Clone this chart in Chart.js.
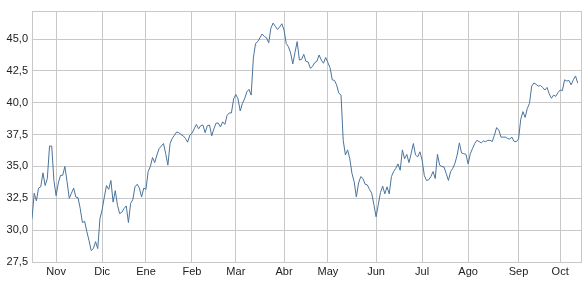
<!DOCTYPE html>
<html>
<head>
<meta charset="utf-8">
<script src="https://cdn.jsdelivr.net/npm/chart.js@4.4.1/dist/chart.umd.min.js"></script>
<style>
  body { margin: 0; background: #fff; }
</style>
</head>
<body>
<canvas id="grafica" width="586" height="285"></canvas>
<script>
// cierre diario (una entrada por sesion)
let precios = [
  30.9, 32.9, 32.3, 33.3, 33.4, 34.5, 33.5, 34.05, 36.6, 36.6,
  33.9, 32.7, 33.7, 34.3, 34.3, 35.0, 33.8, 32.5, 32.9, 33.3,
  32.6, 32.55, 31.7, 30.6, 30.7, 29.9, 29.2, 28.4, 28.55, 29.1,
  28.55, 30.9, 31.6, 32.6, 33.5, 33.2, 33.9, 32.2, 33.1, 31.95,
  31.3, 31.4, 31.7, 31.9, 30.6, 32.1, 32.4, 33.4, 33.6, 33.3,
  32.6, 33.3, 33.2, 34.6, 35.0, 35.7, 35.3, 35.9, 36.4, 36.6,
  36.8, 36.0, 35.1, 36.8, 37.2, 37.45, 37.7, 37.65, 37.5, 37.4,
  37.2, 36.9, 37.45, 37.6, 37.95, 38.3, 37.95, 38.2, 38.25, 37.65,
  38.2, 38.25, 37.4, 37.95, 38.4, 38.4, 38.1, 38.5, 38.3, 39.0,
  39.2, 39.2, 40.3, 40.65, 40.3, 39.35, 39.95, 40.3, 40.85, 41.05,
  40.6, 43.5, 44.65, 44.8, 45.1, 45.4, 45.2, 45.1, 44.7, 45.85,
  46.25, 46.0, 45.75, 45.95, 46.2, 45.7, 44.65, 44.4, 43.9, 43.05,
  43.95, 44.8, 43.35, 43.4, 43.8, 43.25, 43.2, 42.7, 42.85, 43.15,
  43.25, 43.75, 43.35, 43.1, 43.55, 43.15, 42.75, 41.8, 41.75, 41.4,
  40.75, 40.6, 37.05, 35.9, 36.3, 35.6, 34.45, 33.8, 32.6, 33.7,
  34.2, 34.05, 33.6, 33.55, 33.2, 32.9, 32.0, 31.05, 32.0, 32.95,
  33.45, 32.85, 33.4, 32.85, 34.2, 34.6, 34.85, 35.2, 34.7, 36.3,
  35.6, 35.95, 35.3, 36.0, 36.8, 35.9, 35.75, 36.15, 35.5, 34.3,
  33.9, 33.95, 34.2, 34.6, 34.05, 35.95, 35.1, 35.0, 34.95, 34.45,
  33.9, 34.6, 34.85, 35.25, 35.9, 36.85, 36.05, 36.0, 35.95, 35.2,
  36.0, 36.4, 36.8, 37.05, 36.95, 36.85, 37.0, 36.95, 37.05, 37.05,
  36.95, 37.45, 38.05, 37.85, 37.3, 37.3, 37.3, 37.2, 37.15, 37.3,
  36.95, 36.95, 37.15, 38.7, 39.3, 38.85, 39.55, 39.95, 41.3, 41.55,
  41.45, 41.3, 41.35, 41.2, 41.0, 41.2, 40.7, 40.35, 40.6, 40.5,
  40.8, 41.0, 40.95, 41.8, 41.7, 41.75, 41.4, 41.8, 42.1, 41.55
];

// sesion en la que empieza cada mes
let inicioMes = [11, 32, 52, 73, 93, 115, 135, 157, 178, 199, 222, 241];
let meses = ["Nov", "Dic", "Ene", "Feb", "Mar", "Abr", "May", "Jun", "Jul", "Ago", "Sep", "Oct"];

let ticksY = [27.5, 30, 32.5, 35, 37.5, 40, 42.5, 45];
let minY = 27.5;
let maxY = 47.2;
let maxX = 250.5;

let puntos = precios.map((p, i) => ({ x: i, y: p }));

let miCanvas = document.getElementById("grafica").getContext("2d");

var chart = new Chart(miCanvas, {
    type: "line",
    data: {
        datasets: [
            {
                data: puntos,
                borderColor: "rgb(74, 116, 156)",
                borderWidth: 1,
                pointRadius: 0,
                tension: 0,
                fill: false
            }
        ]
    },
    options: {
        responsive: false,
        animation: false,
        layout: { padding: { top: 11, right: 5, left: 0, bottom: 0 } },
        plugins: {
            legend: { display: false },
            tooltip: { enabled: false }
        },
        scales: {
            x: {
                type: "linear",
                min: 0,
                max: maxX,
                afterBuildTicks: (scale) => {
                    scale.ticks = [0].concat(inicioMes, [maxX]).map(v => ({ value: v }));
                },
                afterFit: (scale) => { scale.height = 23; },
                grid: { color: "#c8c8c8", drawTicks: false },
                border: { color: "#c8c8c8" },
                ticks: {
                    autoSkip: false,
                    maxRotation: 0,
                    padding: 3,
                    color: "#222",
                    font: { family: "Liberation Sans", size: 11 },
                    callback: (v) => {
                        let k = inicioMes.indexOf(v);
                        return k >= 0 ? meses[k] : "";
                    }
                }
            },
            y: {
                min: minY,
                max: maxY,
                afterBuildTicks: (scale) => {
                    scale.ticks = ticksY.concat([maxY]).map(v => ({ value: v }));
                },
                afterFit: (scale) => { scale.width = 32; },
                grid: { color: "#c8c8c8", drawTicks: false },
                border: { color: "#c8c8c8" },
                ticks: {
                    padding: 4,
                    color: "#222",
                    font: { family: "Liberation Sans", size: 11 },
                    callback: (v) => ticksY.includes(v) ? v.toFixed(1).replace(".", ",") : ""
                }
            }
        }
    }
});
</script>
</body>
</html>
